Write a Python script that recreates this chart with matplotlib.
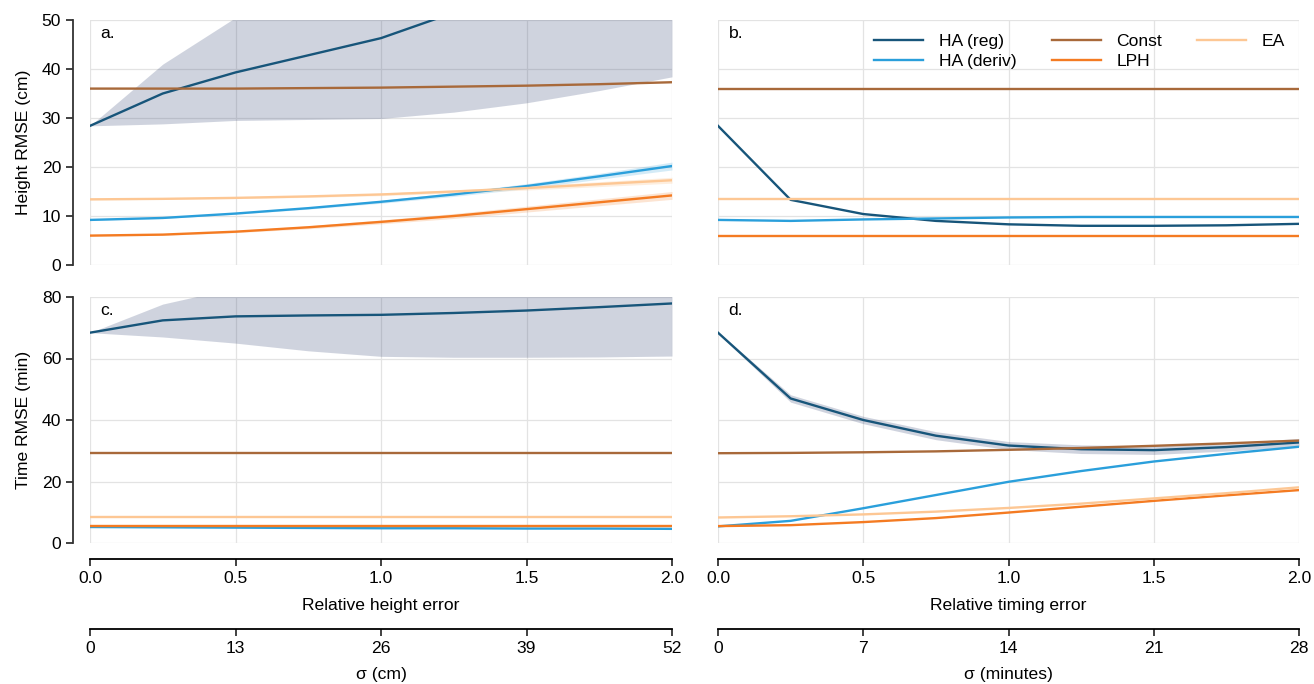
import matplotlib
matplotlib.use("Agg")
import matplotlib.pyplot as plt
import numpy as np

plt.rcParams['font.family'] = ['Liberation Sans', 'DejaVu Sans']

# ---------------- data ----------------
rel_err = [0.0, 0.25, 0.5, 0.75, 1.0, 1.25, 1.5, 1.75, 2.0]

# panel a: height RMSE vs relative height error
a_ha_reg = [28.4, 35.0, 39.3, 42.8, 46.3, 51.5, 57.0, 63.0, 69.0]
a_ha_reg_lo = [28.4, 28.8, 29.5, 29.7, 29.9, 31.2, 33.1, 35.6, 38.4]
a_ha_reg_hi = [28.4, 41.0, 50.5, 58.0, 65.0, 72.0, 80.0, 88.0, 96.0]
a_ha_deriv = [9.2, 9.6, 10.5, 11.6, 12.9, 14.4, 16.1, 18.1, 20.2]
a_ha_deriv_ci = [0.1, 0.1, 0.15, 0.2, 0.3, 0.4, 0.5, 0.6, 0.8]
a_const = [36.0, 36.0, 36.0, 36.1, 36.2, 36.4, 36.6, 36.9, 37.3]
a_lph = [6.0, 6.2, 6.8, 7.7, 8.8, 10.0, 11.4, 12.8, 14.2]
a_lph_ci = [0.1, 0.15, 0.2, 0.3, 0.4, 0.5, 0.6, 0.7, 0.8]
a_ea = [13.4, 13.5, 13.7, 14.0, 14.4, 15.0, 15.7, 16.5, 17.3]
a_ea_ci = [0.1, 0.1, 0.15, 0.2, 0.25, 0.3, 0.4, 0.5, 0.6]

# panel b: height RMSE vs relative timing error
b_ha_reg = [28.4, 13.3, 10.4, 9.0, 8.3, 8.0, 8.0, 8.1, 8.4]
b_ha_deriv = [9.2, 9.0, 9.3, 9.5, 9.7, 9.8, 9.8, 9.8, 9.8]
b_const = [36.0, 36.0, 36.0, 36.0, 36.0, 36.0, 36.0, 36.0, 36.0]
b_lph = [6.0, 6.0, 6.0, 6.0, 6.0, 6.0, 6.0, 6.0, 6.0]
b_ea = [13.4, 13.4, 13.4, 13.4, 13.4, 13.4, 13.4, 13.4, 13.4]

# panel c: time RMSE vs relative height error
c_ha_reg = [68.4, 72.4, 73.7, 74.0, 74.2, 74.8, 75.6, 76.7, 77.9]
c_ha_reg_lo = [68.4, 67.0, 65.0, 62.5, 60.7, 60.4, 60.4, 60.5, 60.8]
c_ha_reg_hi = [68.4, 77.7, 83.0, 88.0, 92.0, 95.0, 98.0, 100.0, 102.0]
c_ha_deriv = [5.2, 5.1, 5.0, 4.9, 4.8, 4.8, 4.7, 4.7, 4.6]
c_const = [29.2, 29.2, 29.2, 29.2, 29.2, 29.2, 29.2, 29.2, 29.2]
c_lph = [5.5, 5.5, 5.5, 5.5, 5.5, 5.5, 5.5, 5.5, 5.5]
c_ea = [8.3, 8.3, 8.3, 8.3, 8.3, 8.3, 8.3, 8.3, 8.3]

# panel d: time RMSE vs relative timing error
d_ha_reg = [68.4, 47.0, 40.0, 34.9, 31.7, 30.5, 30.2, 31.2, 32.7]
d_ha_reg_ci = [0.3, 1.2, 1.2, 1.3, 1.3, 1.4, 1.4, 1.3, 1.3]
d_ha_deriv = [5.4, 7.2, 11.3, 15.6, 19.9, 23.4, 26.5, 29.0, 31.3]
d_const = [29.2, 29.3, 29.5, 29.8, 30.3, 30.9, 31.6, 32.4, 33.3]
d_lph = [5.5, 5.8, 6.8, 8.1, 9.9, 11.8, 13.7, 15.5, 17.2]
d_ea = [8.3, 8.7, 9.3, 10.2, 11.4, 12.8, 14.5, 16.2, 18.1]

rel_ticks = [0.0, 0.5, 1.0, 1.5, 2.0]
sigma_cm_ticks = [0, 13, 26, 39, 52]
sigma_min_ticks = [0, 7, 14, 21, 28]

# ---------------- style ----------------
C_REG = '#17557a'
C_DER = '#2a9fdb'
C_CON = '#a8693a'
C_LPH = '#f47b22'
C_EA = '#fdc794'
C_BAND = '#42527e'
LW = 1.7
FS = 12.6
PX = 72 / 100  # points per pixel

fig = plt.figure(figsize=(13.14, 6.84), dpi=100)
W, H = 1314, 684


def mk(x0, x1, y0, y1):
    return fig.add_axes([x0 / W, 1 - y1 / H, (x1 - x0) / W, (y1 - y0) / H])


ax_a = mk(90, 672, 20, 265)
ax_b = mk(718, 1299, 20, 265)
ax_c = mk(90, 672, 297, 543)
ax_d = mk(718, 1299, 297, 543)

x = np.array(rel_err)


def band(ax, lo, hi, color, alpha):
    ax.fill_between(x, lo, hi, color=color, alpha=alpha, lw=0, zorder=1)


def ci(ax, y, h, color, alpha=0.25):
    y = np.array(y); h = np.array(h)
    band(ax, y - h, y + h, color, alpha)


band(ax_a, a_ha_reg_lo, a_ha_reg_hi, C_BAND, 0.25)
ci(ax_a, a_ha_deriv, a_ha_deriv_ci, C_DER, 0.2)
ci(ax_a, a_lph, a_lph_ci, C_LPH, 0.2)
ci(ax_a, a_ea, a_ea_ci, C_EA, 0.3)
band(ax_c, c_ha_reg_lo, c_ha_reg_hi, C_BAND, 0.25)
ci(ax_d, d_ha_reg, d_ha_reg_ci, C_BAND, 0.25)

series_a = [(a_ha_reg, C_REG, 'HA (reg)'), (a_ha_deriv, C_DER, 'HA (deriv)'),
            (a_const, C_CON, 'Const'), (a_lph, C_LPH, 'LPH'), (a_ea, C_EA, 'EA')]
series_b = [(b_ha_reg, C_REG, 'HA (reg)'), (b_ha_deriv, C_DER, 'HA (deriv)'),
            (b_const, C_CON, 'Const'), (b_lph, C_LPH, 'LPH'), (b_ea, C_EA, 'EA')]
series_c = [(c_ha_reg, C_REG, 'HA (reg)'), (c_ha_deriv, C_DER, 'HA (deriv)'),
            (c_const, C_CON, 'Const'), (c_lph, C_LPH, 'LPH'), (c_ea, C_EA, 'EA')]
series_d = [(d_ha_reg, C_REG, 'HA (reg)'), (d_ha_deriv, C_DER, 'HA (deriv)'),
            (d_const, C_CON, 'Const'), (d_lph, C_LPH, 'LPH'), (d_ea, C_EA, 'EA')]

handles = []
for ax, ser in [(ax_a, series_a), (ax_b, series_b), (ax_c, series_c), (ax_d, series_d)]:
    for y, col, lab in ser:
        h, = ax.plot(x, y, color=col, lw=LW, label=lab, zorder=3)
        if ax is ax_b:
            handles.append(h)

TICK = dict(labelsize=FS, length=7 * PX, width=1.3, color='#333333')
for ax in [ax_a, ax_b, ax_c, ax_d]:
    ax.set_xlim(0, 2.0)
    ax.set_xticks(rel_ticks)
    ax.grid(True, color='#e3e3e3', lw=0.9, zorder=0)
    ax.set_axisbelow(True)
    for s in ['top', 'right']:
        ax.spines[s].set_visible(False)
    ax.tick_params(**TICK)

for ax in [ax_a, ax_b]:
    ax.set_ylim(0, 50)
    ax.set_yticks([0, 10, 20, 30, 40, 50])
    ax.spines['bottom'].set_visible(False)
    ax.tick_params(axis='x', bottom=False, labelbottom=False)
for ax in [ax_c, ax_d]:
    ax.set_ylim(0, 80)
    ax.set_yticks([0, 20, 40, 60, 80])
    ax.spines['bottom'].set_position(('outward', 16 * PX))
    ax.spines['bottom'].set_linewidth(1.3)

for ax in [ax_a, ax_c]:
    ax.spines['left'].set_position(('outward', 17 * PX))
    ax.spines['left'].set_linewidth(1.3)
    ax.spines['left'].set_color('#333333')
for ax in [ax_b, ax_d]:
    ax.spines['left'].set_visible(False)
    ax.tick_params(axis='y', left=False, labelleft=False)

ax_a.set_ylabel('Height RMSE (cm)', fontsize=FS, labelpad=8)
ax_c.set_ylabel('Time RMSE (min)', fontsize=FS, labelpad=8)
ax_c.set_xlabel('Relative height error', fontsize=FS, labelpad=9)
ax_d.set_xlabel('Relative timing error', fontsize=FS, labelpad=9)

sec_c = ax_c.secondary_xaxis('bottom', functions=(lambda v: v * 26, lambda v: v / 26))
sec_d = ax_d.secondary_xaxis('bottom', functions=(lambda v: v * 14, lambda v: v / 14))
for sec, ticks, lab in [(sec_c, sigma_cm_ticks, 'σ (cm)'), (sec_d, sigma_min_ticks, 'σ (minutes)')]:
    sec.spines['bottom'].set_position(('outward', 86 * PX))
    sec.spines['bottom'].set_linewidth(1.3)
    sec.set_xticks(ticks)
    sec.set_xlabel(lab, fontsize=FS, labelpad=8)
    sec.tick_params(**TICK)

for ax, t in [(ax_a, 'a.'), (ax_b, 'b.'), (ax_c, 'c.'), (ax_d, 'd.')]:
    ax.text(0.018, 0.975, t, transform=ax.transAxes, ha='left', va='top', fontsize=FS)

ax_b.legend(handles=handles, ncol=3, loc='upper right', bbox_to_anchor=(1.0, 1.0),
            frameon=False, fontsize=FS, handlelength=2.8, handletextpad=0.9,
            columnspacing=2.0, labelspacing=0.25, borderaxespad=0.4)

fig.savefig('out.png', dpi=100)
